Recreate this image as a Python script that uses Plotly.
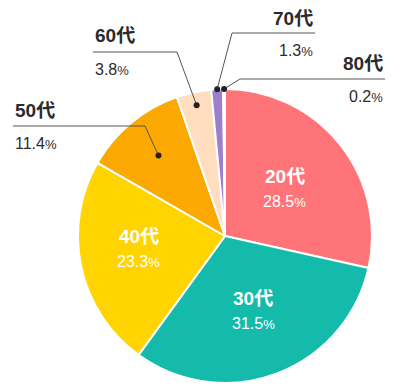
import math
import plotly.graph_objects as go

# ---- data ----
categories = ["20代", "30代", "40代", "50代", "60代", "70代", "80代"]
shares = [28.5, 31.5, 23.3, 11.4, 3.8, 1.3, 0.2]
share_labels = ["28.5", "31.5", "23.3", "11.4", "3.8", "1.3", "0.2"]

# ---- style ----
colors = ["#FF7478", "#14BBAA", "#FFD400", "#FBA800", "#FFDDBE", "#9D80CC", "#D9D9D9"]
OFF = 8                      # default page margin of the html body
W, H = 400 - OFF, 391 - OFF  # figure size so it fits in the window
CX, CY, R = 225, 236, 147    # pie geometry in window pixels
FONT = "Liberation Sans, Arial, Noto Sans CJK JP, sans-serif"
DARK = "#2b2b2b"

# radius fraction and vertical nudge for inside labels
inside = {0: (0.52, 0), 1: (0.54, 0), 2: (0.60, -6)}
outside = {
    3: dict(f=0.71, tx=13, ny=110, ly=126, lx0=13, lx1=145, join="right", align="left"),
    4: dict(f=0.91, tx=93, ny=35, ly=52, lx0=93, lx1=177, join="right", align="left"),
    5: dict(f=1.00, tx=315, ny=18, ly=33, lx0=232, lx1=315, join="left", align="right"),
    6: dict(f=1.00, tx=385, ny=63, ly=79, lx0=240, lx1=385, join="left", align="right"),
}
PCT = "%s<span style='font-size:13px'>%%</span>"

def px(x):
    return (x - OFF) / W

def py(y):
    return (H - (y - OFF)) / H

total = sum(shares)
mids = []
cum = 0
for v in shares:
    mids.append((cum + v / 2) / total * 2 * math.pi)
    cum += v

def polar(i, f):
    a = mids[i]
    return CX + f * R * math.sin(a), CY - f * R * math.cos(a)

fig = go.Figure(go.Pie(
    labels=categories, values=shares, sort=False, direction="clockwise", rotation=0,
    marker=dict(colors=colors, line=dict(color="white", width=2)),
    textinfo="none", hoverinfo="skip", showlegend=False,
    domain=dict(x=[px(CX - R), px(CX + R)], y=[py(CY + R), py(CY - R)]),
))

annotations = []
shapes = []

for i, (f, nudge) in inside.items():
    x, y = polar(i, f)
    y += nudge
    annotations.append(dict(x=px(x), y=py(y - 12), xref="paper", yref="paper", showarrow=False,
                            text="<b>%s</b>" % categories[i], font=dict(family=FONT, size=19, color="white"),
                            xanchor="center", yanchor="middle"))
    annotations.append(dict(x=px(x), y=py(y + 13), xref="paper", yref="paper", showarrow=False,
                            text=PCT % share_labels[i],
                            font=dict(family=FONT, size=16, color="white"),
                            xanchor="center", yanchor="middle"))

for i, o in outside.items():
    dx, dy = polar(i, o["f"])
    jx = o["lx1"] if o["join"] == "right" else o["lx0"]
    shapes.append(dict(type="line", xref="paper", yref="paper", x0=px(o["lx0"]), x1=px(o["lx1"]),
                       y0=py(o["ly"]), y1=py(o["ly"]), line=dict(color="#555", width=1), layer="above"))
    shapes.append(dict(type="line", xref="paper", yref="paper", x0=px(jx), x1=px(dx),
                       y0=py(o["ly"]), y1=py(dy), line=dict(color="#555", width=1), layer="above"))
    shapes.append(dict(type="circle", xref="paper", yref="paper", x0=px(dx - 3), x1=px(dx + 3),
                       y0=py(dy + 3), y1=py(dy - 3), fillcolor="#222", line=dict(width=0), layer="above"))
    anchor = "left" if o["align"] == "left" else "right"
    annotations.append(dict(x=px(o["tx"]), y=py(o["ny"]), xref="paper", yref="paper", showarrow=False,
                            text="<b>%s</b>" % categories[i], font=dict(family=FONT, size=19, color=DARK),
                            xanchor=anchor, yanchor="middle"))
    annotations.append(dict(x=px(o["tx"]), y=py(o["ly"] + 17), xref="paper", yref="paper", showarrow=False,
                            text=PCT % share_labels[i],
                            font=dict(family=FONT, size=16, color=DARK),
                            xanchor=anchor, yanchor="middle"))

fig.update_layout(width=W, height=H, margin=dict(l=0, r=0, t=0, b=0),
                  paper_bgcolor="white", plot_bgcolor="white",
                  annotations=annotations, shapes=shapes)
fig.write_html("out.html")
